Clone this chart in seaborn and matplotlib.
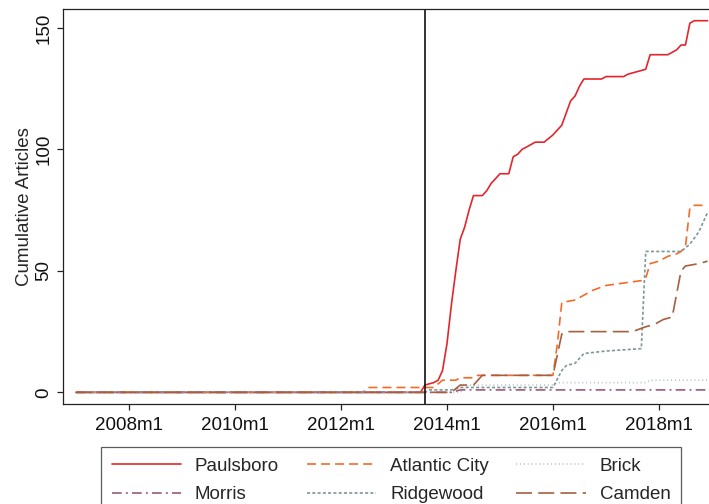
import numpy as np
import pandas as pd
import matplotlib
matplotlib.use("Agg")
import matplotlib.pyplot as plt
import seaborn as sns
from matplotlib.lines import Line2D

# cumulative article counts (Stata monthly dates)
paulsboro_months = ["2007m1", "2013m7", "2013m8", "2013m10", "2013m11", "2013m12", "2014m1",
                    "2014m2", "2014m3", "2014m4", "2014m5", "2014m6", "2014m7", "2014m9",
                    "2014m10", "2014m11", "2014m12", "2015m1", "2015m3", "2015m4", "2015m5",
                    "2015m6", "2015m7", "2015m8", "2015m9", "2015m11", "2016m1", "2016m2",
                    "2016m3", "2016m4", "2016m5", "2016m6", "2016m7", "2016m8", "2016m12",
                    "2017m1", "2017m5", "2017m6", "2017m8", "2017m10", "2017m11", "2018m3",
                    "2018m5", "2018m6", "2018m7", "2018m8", "2018m9", "2018m12"]
paulsboro_vals = [0, 0, 3, 4, 5, 9, 20, 36, 50, 63, 68, 75, 81, 81, 83, 86, 88, 90, 90, 97, 98,
                  100, 101, 102, 103, 103, 106, 108, 110, 115, 120, 122, 126, 129, 129, 130, 130,
                  131, 132, 133, 139, 139, 141, 143, 143, 152, 153, 153]

atlantic_months = ["2007m1", "2012m6", "2012m7", "2013m10", "2013m12", "2014m3", "2014m4",
                   "2014m7", "2014m8", "2016m1", "2016m2", "2016m3", "2016m6", "2016m8",
                   "2016m10", "2017m1", "2017m5", "2017m9", "2017m10", "2017m11", "2018m1",
                   "2018m3", "2018m5", "2018m6", "2018m7", "2018m8", "2018m9", "2018m12"]
atlantic_vals = [0, 0, 2, 2, 5, 5, 6, 6, 7, 7, 20, 37, 38, 40, 42, 44, 45, 46, 47, 53, 54, 56,
                 57, 58, 60, 76, 77, 77]

brick_months = ["2007m1", "2014m4", "2014m6", "2016m1", "2016m2", "2017m10", "2017m11", "2018m12"]
brick_vals = [0, 0, 3, 3, 4, 4, 5, 5]

morris_months = ["2007m1", "2014m2", "2014m4", "2018m12"]
morris_vals = [0, 0, 1, 1]

ridgewood_months = ["2007m1", "2013m8", "2013m9", "2014m2", "2014m4", "2016m1", "2016m3",
                    "2016m4", "2016m6", "2016m8", "2017m1", "2017m9", "2017m10", "2018m6",
                    "2018m8", "2018m10", "2018m12"]
ridgewood_vals = [0, 0, 1, 1, 2, 2, 9, 11, 12, 16, 17, 18, 58, 58, 61, 66, 74]

camden_months = ["2007m1", "2014m2", "2014m4", "2014m7", "2014m9", "2016m1", "2016m3",
                 "2016m4", "2017m7", "2017m10", "2017m12", "2018m2", "2018m4", "2018m6",
                 "2018m7", "2018m10", "2018m12"]
camden_vals = [0, 0, 3, 3, 7, 7, 24, 25, 25, 27, 28, 30, 31, 50, 52, 53, 54]

event_month = "2013m8"
xtick_months = ["2008m1", "2010m1", "2012m1", "2014m1", "2016m1", "2018m1"]
ytick_vals = [0, 50, 100, 150]


def tm(s):
    y, m = s.split("m")
    return int(y) + (int(m) - 1) / 12.0


series = [
    ("Paulsboro", paulsboro_months, paulsboro_vals, "#e3262d", "-"),
    ("Atlantic City", atlantic_months, atlantic_vals, "#f26b2a", (0, (6.5, 3.6))),
    ("Brick", brick_months, brick_vals, "#b9c4cc", (0, (0.8, 2.0))),
    ("Morris", morris_months, morris_vals, "#9a5a7c", (0, (7, 3, 1.4, 3))),
    ("Ridgewood", ridgewood_months, ridgewood_vals, "#7f9696", (0, (2.2, 1.6))),
    ("Camden", camden_months, camden_vals, "#a5603f", (0, (11.5, 4.5))),
]

sns.set_theme(style="white")
plt.rcParams["font.family"] = ["Liberation Sans", "DejaVu Sans"]
plt.rcParams["lines.scale_dashes"] = False

fig = plt.figure(figsize=(7.09, 5.04), dpi=100)
ax = fig.add_axes([63 / 709, 1 - 404 / 504, 0.934, (404 - 9.3) / 504])

handles = {}
for name, months, vals, color, ls in series:
    df = pd.DataFrame({"month": [tm(m) for m in months], "articles": vals})
    sns.lineplot(data=df, x="month", y="articles", ax=ax, color=color,
                 linestyle=ls, linewidth=1.2, estimator=None, sort=False)
    handles[name] = Line2D([], [], color=color, linestyle=ls, linewidth=1.2)

ax.axvline(tm(event_month), color="#111111", linewidth=1.2)

ax.set_xlim(2006.755, 2019.25)
ax.set_ylim(-4.8, 157.7)
ax.set_xticks([tm(m) for m in xtick_months])
ax.set_xticklabels(xtick_months)
ax.set_yticks(ytick_vals)
ax.set_yticklabels([str(v) for v in ytick_vals], rotation=90, va="center")
ax.set_xlabel("")
ax.set_ylabel("Cumulative Articles", fontsize=13.5, labelpad=2)
ax.tick_params(axis="both", direction="out", length=4.5, width=0.9, color="#222222",
               labelsize=13.5, labelcolor="#111111", bottom=True, left=True)
ax.tick_params(axis="x", pad=5)
ax.tick_params(axis="y", pad=3)
for sp in ax.spines.values():
    sp.set_color("#222222")
    sp.set_linewidth(0.9)

order = ["Paulsboro", "Morris", "Atlantic City", "Ridgewood", "Brick", "Camden"]
leg = fig.legend([handles[n] for n in order], order, ncol=3, loc="upper left",
                 bbox_to_anchor=(101 / 709, 1 - 447 / 504), borderaxespad=0,
                 fontsize=13.5, frameon=True, fancybox=False, handlelength=3.7,
                 handletextpad=0.75, columnspacing=1.47, labelspacing=0.61, borderpad=0.56)
leg.get_frame().set_edgecolor("#333333")
leg.get_frame().set_linewidth(0.9)

fig.savefig("out.png", dpi=100)
